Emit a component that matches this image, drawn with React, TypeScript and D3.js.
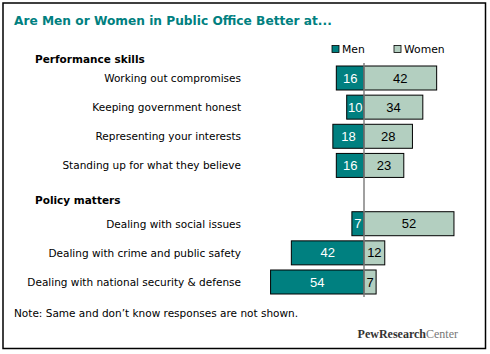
import React from "react";
import * as d3 from "d3";

const groups = ["Performance skills", "Policy matters"];
const categories = [
  "Working out compromises",
  "Keeping government honest",
  "Representing your interests",
  "Standing up for what they believe",
  "Dealing with social issues",
  "Dealing with crime and public safety",
  "Dealing with national security & defense",
];
const categoryGroup = [0, 0, 0, 0, 1, 1, 1];
const men = [16, 10, 18, 16, 7, 42, 54];
const women = [42, 34, 28, 23, 52, 12, 7];
const seriesNames = ["Men", "Women"];

const W = 490;
const H = 354;
const MEN_COLOR = "#008080";
const WOMEN_COLOR = "#b3cfc0";
const TEAL_TEXT = "#008080";
const FONT = "'DejaVu Sans', Verdana, sans-serif";

export default function App() {
  const x = d3.scaleLinear().domain([-60, 60]).range([364 - 60 * 1.73, 364 + 60 * 1.73]);
  const slot = categories.map((_, i) => i + categoryGroup[i]);
  const y = d3.scaleLinear().domain([0, 7]).range([78, 282]);
  const barH = 24;
  const groupHeaderSlot = [-0.65, 4.2];
  const x0 = x(0);

  return (
    <svg width={W} height={H} style={{ position: "absolute", left: 0, top: 0 }}>
      <rect x={0} y={0} width={W} height={H} fill="#fff" />
      <rect x={3} y={3} width={482.5} height={345.5} fill="#fff" stroke="#000" strokeWidth={1.5} />
      <text x={14} y={25} fill={TEAL_TEXT} fontFamily={FONT} fontWeight="bold" fontSize={12.2}>
        Are Men or Women in Public Office Better at...
      </text>

      {seriesNames.map((s, i) => {
        const lx = i === 0 ? 332 : 394;
        return (
          <g key={s}>
            <rect x={lx} y={45.5} width={7} height={7} fill={i === 0 ? MEN_COLOR : WOMEN_COLOR} stroke="#000" strokeWidth={0.8} />
            <text x={lx + 10} y={53} fontFamily={FONT} fontSize={10.8} fill="#000">
              {s}
            </text>
          </g>
        );
      })}

      {groups.map((g, gi) => (
        <text key={g} x={35} y={y(groupHeaderSlot[gi]) + 4} fontFamily={FONT} fontWeight="bold" fontSize={10.5} fill="#000">
          {g}
        </text>
      ))}

      {categories.map((c, i) => {
        const cy = y(slot[i]);
        return (
          <g key={c}>
            <text x={241} y={cy + 4} textAnchor="end" fontFamily={FONT} fontSize={10.5} fill="#000">
              {c}
            </text>
            <rect x={x(-men[i])} y={cy - barH / 2} width={x0 - x(-men[i])} height={barH} fill={MEN_COLOR} stroke="#000" strokeWidth={1} />
            <rect x={x0} y={cy - barH / 2} width={x(women[i]) - x0} height={barH} fill={WOMEN_COLOR} stroke="#000" strokeWidth={1} />
            <text x={(x(-men[i]) + x0) / 2} y={cy + 4.5} textAnchor="middle" fontFamily="'Liberation Sans', Arial, sans-serif" fontSize={13} fill="#fff">
              {men[i]}
            </text>
            <text x={(x(women[i]) + x0) / 2} y={cy + 4.5} textAnchor="middle" fontFamily="'Liberation Sans', Arial, sans-serif" fontSize={13} fill="#000">
              {women[i]}
            </text>
          </g>
        );
      })}

      <line x1={x0} x2={x0} y1={63} y2={297} stroke="#808080" strokeWidth={1.5} />

      <text x={14} y={317} fontFamily={FONT} fontSize={10.5} fill="#000">
        Note: Same and don’t know responses are not shown.
      </text>
      <text x={458} y={338} textAnchor="end" fontFamily="'Liberation Serif', 'Times New Roman', serif" fontSize={12} fill="#444">
        <tspan fontWeight="bold" fill="#333">PewResearch</tspan>
        <tspan fill="#777">Center</tspan>
      </text>
    </svg>
  );
}
